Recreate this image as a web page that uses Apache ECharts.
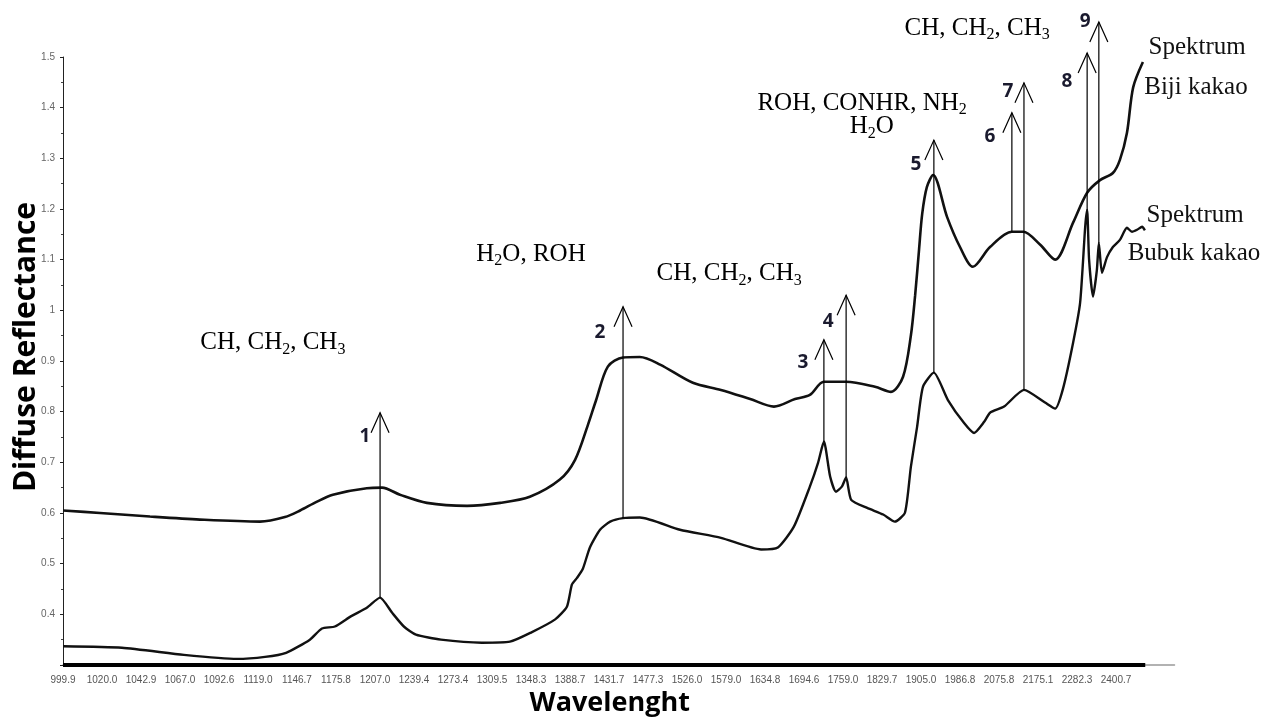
<!DOCTYPE html>
<html>
<head>
<meta charset="utf-8">
<script src="https://cdn.jsdelivr.net/npm/echarts/dist/echarts.min.js"></script>
<style>html,body{margin:0;padding:0;background:#fff}#c{width:1275px;height:722px}</style>
</head>
<body>
<div id="c"></div>
<script>
// x positions are in tick-index units (0 = 999.9 nm, 27 = 2400.7 nm)
const wavelengthLabels = ['999.9','1020.0','1042.9','1067.0','1092.6','1119.0','1146.7','1175.8','1207.0','1239.4','1273.4','1309.5','1348.3','1388.7','1431.7','1477.3','1526.0','1579.0','1634.8','1694.6','1759.0','1829.7','1905.0','1986.8','2075.8','2175.1','2282.3','2400.7'];
const yTickLabels = ['0.4','0.5','0.6','0.7','0.8','0.9','1','1.1','1.2','1.3','1.4','1.5'];

const bijiX = [0,0.95,2.23,3.51,5.05,5.69,6.08,6.50,6.92,7.79,8.18,8.64,9.33,10.36,11.21,11.97,12.74,13.13,13.46,13.67,13.97,14.36,14.79,15.31,16.15,16.87,17.62,18.23,18.77,19.15,19.51,20.08,20.82,21.23,21.54,21.74,21.85,21.95,22.03,22.15,22.31,22.67,23.00,23.33,23.77,24.33,24.62,25.05,25.44,25.90,26.26,26.59,26.92,27.10,27.28,27.44,27.69];
const bijiY = [0.605,0.600,0.593,0.587,0.583,0.592,0.605,0.622,0.636,0.649,0.650,0.636,0.620,0.614,0.620,0.632,0.666,0.705,0.774,0.823,0.889,0.907,0.908,0.893,0.857,0.843,0.825,0.810,0.825,0.833,0.859,0.859,0.849,0.839,0.869,0.950,1.030,1.120,1.190,1.243,1.267,1.184,1.125,1.086,1.125,1.155,1.155,1.130,1.100,1.173,1.232,1.257,1.271,1.297,1.350,1.440,1.490];

const bubukX = [0,1.51,3.10,4.46,5.18,5.72,6.33,6.64,6.97,7.38,7.79,8.13,8.44,8.74,9.05,9.69,10.74,11.46,12.00,12.62,12.92,13.05,13.18,13.33,13.51,13.77,14.03,14.36,14.79,15.82,16.87,17.90,18.33,18.74,19.15,19.36,19.51,19.67,19.82,19.97,20.08,20.21,20.62,21.03,21.33,21.59,21.74,21.90,22.05,22.33,22.69,23.10,23.36,23.62,23.77,24.13,24.64,25.18,25.44,25.64,25.90,26.08,26.21,26.26,26.31,26.41,26.51,26.56,26.64,26.77,26.92,27.10,27.28,27.41,27.54,27.67,27.74];
const bubukY = [0.337,0.334,0.320,0.312,0.316,0.324,0.350,0.372,0.376,0.396,0.413,0.433,0.403,0.376,0.360,0.350,0.344,0.346,0.364,0.390,0.415,0.459,0.472,0.490,0.532,0.567,0.583,0.590,0.591,0.567,0.551,0.528,0.532,0.573,0.652,0.699,0.741,0.672,0.642,0.652,0.670,0.626,0.610,0.597,0.583,0.601,0.691,0.770,0.849,0.877,0.823,0.778,0.758,0.780,0.798,0.810,0.843,0.818,0.806,0.845,0.936,1.015,1.165,1.198,1.100,1.027,1.080,1.133,1.074,1.105,1.125,1.139,1.163,1.155,1.159,1.165,1.158];

// peak arrows
const arrowNum  = ['1','2','3','4','5','6','7','8','9'];
const arrowX    = [8.13,14.36,19.51,20.08,22.33,24.33,24.64,26.26,26.56];
const arrowFrom = [0.433,0.590,0.741,0.670,0.877,1.155,0.843,1.198,1.133];
const arrowTo   = [0.798,1.007,0.942,1.030,1.336,1.390,1.449,1.508,1.569];
const arrowNumX = [7.74,13.77,18.97,19.62,21.87,23.77,24.23,25.74,26.21];
const arrowNumY = [0.750,0.956,0.896,0.977,1.287,1.342,1.431,1.451,1.569];

// functional group annotations
const groupText = [
  '{n|CH, CH}{s|2}{n|, CH}{s|3}',
  '{n|H}{s|2}{n|O, ROH}',
  '{n|CH, CH}{s|2}{n|, CH}{s|3}',
  '{n|ROH, CONHR, NH}{s|2}',
  '{n|H}{s|2}{n|O}',
  '{n|CH, CH}{s|2}{n|, CH}{s|3}'
];
const groupX = [5.38,12.0,17.08,20.49,20.74,23.44];
const groupY = [0.936,1.111,1.072,1.409,1.362,1.557];

const seriesText = ['Spektrum','Biji kakao','Spektrum','Bubuk kakao'];
const seriesTextX = [29.08,29.05,29.03,29.0];
const seriesTextY = [1.518,1.439,1.188,1.113];

const xMin = 0, xMax = 28.5, xBarEnd = 27.75, yMin = 0.3, yMax = 1.5;

const chart = echarts.init(document.getElementById('c'), null, {renderer: 'canvas'});

const richStyle = {
  n: {fontFamily: '"Liberation Serif", "Times New Roman", serif', fontSize: 25, lineHeight: 30, color: '#000'},
  s: {fontFamily: '"Liberation Serif", "Times New Roman", serif', fontSize: 16, lineHeight: 14, verticalAlign: 'bottom', color: '#000'}
};

chart.setOption({
  animation: false,
  backgroundColor: '#fff',
  grid: {left: 63, right: 100.5, top: 57, bottom: 57, containLabel: false, outerBoundsMode: 'none'},
  xAxis: {
    type: 'value', min: xMin, max: xMax, interval: 1,
    name: 'Wavelenght', nameLocation: 'middle', nameGap: 25,
    nameTextStyle: {fontFamily: '"Open Sans", sans-serif', fontWeight: 'bold', fontSize: 27, color: '#000', padding: [0, 18, 0, 0]},
    axisLine: {show: true, lineStyle: {color: '#999', width: 1.5}},
    axisTick: {show: false},
    splitLine: {show: false},
    axisLabel: {
      formatter: v => wavelengthLabels[Math.round(v)] || '',
      color: '#555', fontSize: 10, fontFamily: '"Liberation Sans", Arial, sans-serif', margin: 10,
      showMinLabel: true, showMaxLabel: true, hideOverlap: false
    }
  },
  yAxis: {
    type: 'value', min: yMin, max: yMax, interval: 0.1,
    name: 'Diffuse Reflectance', nameLocation: 'middle', nameGap: 22, nameRotate: 90, nameMoveOverlap: false,
    nameTextStyle: {fontFamily: '"Open Sans", sans-serif', fontWeight: 'bold', fontSize: 30, color: '#000', padding: [0, 0, 0, 28]},
    axisLine: {show: true, lineStyle: {color: '#222', width: 1}},
    axisTick: {show: true, length: 3, lineStyle: {color: '#222'}},
    minorTick: {show: true, splitNumber: 2, length: 2, lineStyle: {color: '#444'}},
    splitLine: {show: false},
    axisLabel: {
      formatter: v => yTickLabels[Math.round(v * 10) - 4] || '',
      color: '#666', fontSize: 10, fontFamily: '"Liberation Sans", Arial, sans-serif', margin: 8
    }
  },
  series: [
    {
      type: 'custom', name: 'axisBar', silent: true, z: 3,
      data: [[xMin, xBarEnd]],
      renderItem: (params, api) => {
        const a = api.coord([api.value(0), yMin]);
        const b = api.coord([api.value(1), yMin]);
        return {type: 'rect', shape: {x: a[0], y: a[1] - 2, width: b[0] - a[0], height: 4}, style: {fill: '#000'}};
      }
    },
    {
      type: 'line', name: 'Spektrum Biji kakao', silent: true, z: 4,
      data: bijiX.map((x, i) => [x, bijiY[i]]),
      showSymbol: false, smooth: 0.3,
      lineStyle: {color: '#111', width: 2.6}
    },
    {
      type: 'line', name: 'Spektrum Bubuk kakao', silent: true, z: 4,
      data: bubukX.map((x, i) => [x, bubukY[i]]),
      showSymbol: false, smooth: 0.2,
      lineStyle: {color: '#111', width: 2.4}
    },
    {
      type: 'custom', name: 'arrows', silent: true, z: 5, clip: false,
      data: arrowX.map((x, i) => [x, arrowFrom[i], arrowTo[i], arrowNumX[i], arrowNumY[i]]),
      renderItem: (params, api) => {
        const x = api.value(0);
        const p0 = api.coord([x, api.value(1)]);
        const p1 = api.coord([x, api.value(2)]);
        const pn = api.coord([api.value(3), api.value(4)]);
        return {
          type: 'group',
          children: [
            {type: 'line', shape: {x1: p0[0], y1: p0[1], x2: p1[0], y2: p1[1]}, style: {stroke: '#000', lineWidth: 1.2}},
            {type: 'polyline', shape: {points: [[p1[0] - 9, p1[1] + 20], [p1[0], p1[1]], [p1[0] + 9, p1[1] + 20]]},
             style: {stroke: '#000', lineWidth: 1.2, fill: 'none'}},
            {type: 'text', x: pn[0], y: pn[1],
             style: {text: arrowNum[params.dataIndex], fontFamily: '"Open Sans", sans-serif', fontWeight: 'bold', fontSize: 19,
                     fill: '#1a1a2e', align: 'center', verticalAlign: 'middle'}}
          ]
        };
      }
    },
    {
      type: 'custom', name: 'groups', silent: true, z: 6, clip: false,
      data: groupX.map((x, i) => [x, groupY[i]]),
      renderItem: (params, api) => {
        const p = api.coord([api.value(0), api.value(1)]);
        return {type: 'text', x: p[0], y: p[1],
          style: {text: groupText[params.dataIndex], rich: richStyle, align: 'center', verticalAlign: 'middle', fill: '#000'}};
      }
    },
    {
      type: 'custom', name: 'seriesNames', silent: true, z: 6, clip: false,
      data: seriesTextX.map((x, i) => [x, seriesTextY[i]]),
      renderItem: (params, api) => {
        const p = api.coord([api.value(0), api.value(1)]);
        return {type: 'text', x: p[0], y: p[1],
          style: {text: seriesText[params.dataIndex], fontFamily: '"Liberation Serif", "Times New Roman", serif', fontSize: 25,
                  fill: '#111', align: 'center', verticalAlign: 'middle'}};
      }
    }
  ]
});
</script>
</body>
</html>
